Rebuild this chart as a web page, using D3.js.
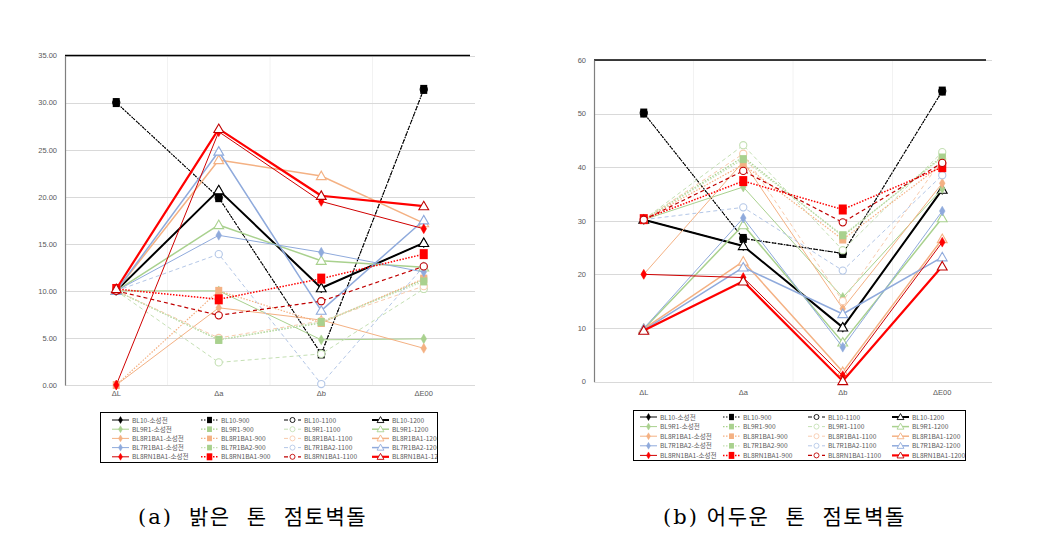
<!DOCTYPE html>
<html><head><meta charset="utf-8">
<script src="https://cdn.jsdelivr.net/npm/d3@7"></script>
<style>body{margin:0;background:#fff} svg{display:block}</style>
</head><body><svg id="c" width="1037" height="536"></svg>
<script>
// ---------- DATA ----------
const categories = ["ΔL", "Δa", "Δb", "ΔE00"];
const ticksA = [0, 5, 10, 15, 20, 25, 30, 35];
const ticksB = [0, 10, 20, 30, 40, 50, 60];

const legendNamesA = [
  "BL10-소성전", "BL10-900", "BL10-1100", "BL10-1200",
  "BL9R1-소성전", "BL9R1-900", "BL9R1-1100", "BL9R1-1200",
  "BL8R1BA1-소성전", "BL8R1BA1-900", "BL8R1BA1-1100", "BL8R1BA1-1200",
  "BL7R1BA1-소성전", "BL7R1BA2-900", "BL7R1BA2-1100", "BL7R1BA2-1200",
  "BL8RN1BA1-소성전", "BL8RN1BA1-900", "BL8RN1BA1-1100", "BL8RN1BA1-1200"
];
const legendNamesB = [
  "BL10-소성전", "BL10-900", "BL10-1100", "BL10-1200",
  "BL9R1-소성전", "BL9R1-900", "BL9R1-1100", "BL9R1-1200",
  "BL8R1BA1-소성전", "BL8R1BA1-900", "BL8R1BA1-1100", "BL8R1BA1-1200",
  "BL7R1BA2-소성전", "BL7R1BA2-900", "BL7R1BA2-1100", "BL7R1BA2-1200",
  "BL8RN1BA1-소성전", "BL8RN1BA1-900", "BL8RN1BA1-1100", "BL8RN1BA1-1200"
];

// panel (a) values: [소성전, 900, 1100, 1200] x [ΔL, Δa, Δb, ΔE00]
const a_BL10     = [[10, 20.7, 10.3, 15.1], [30.0, 19.9, 3.3, 31.4], [30.0, 19.9, 3.3, 31.4], [10, 20.7, 10.3, 15.1]];
const a_BL9R1    = [[10, 10.0, 4.8, 4.9], [10, 4.8, 6.6, 11.2], [10, 2.4, 3.3, 10.2], [10, 17.0, 13.2, 12.5]];
const a_BL8R1BA1 = [[0, 8.2, 6.9, 3.9], [0, 10.0, 6.6, 11.3], [10, 5.0, 6.8, 10.5], [10, 23.9, 22.2, 17.2]];
const a_BL7R1BA2 = [[10, 15.9, 14.1, 12.0], [10, 4.8, 6.7, 11.0], [10, 13.9, 0.1, 12.6], [10, 24.8, 7.9, 17.5]];
const a_BL8RN1BA1= [[0, 26.9, 19.5, 16.6], [10.2, 9.1, 11.3, 13.9], [10, 7.4, 8.9, 12.6], [10.2, 27.2, 20.1, 19.0]];

// panel (b) values
const b_BL10     = [[30.2, 25.3, 10.1, 35.8], [50.1, 26.7, 23.9, 54.2], [50.1, 26.7, 23.9, 54.2], [30.2, 25.3, 10.1, 35.8]];
const b_BL9R1    = [[30.2, 36.3, 15.7, 36.0], [30.2, 41.9, 27.1, 42.0], [30.2, 44.1, 24.5, 42.8], [9.8, 29.2, 7.3, 30.5]];
const b_BL8R1BA1 = [[20.0, 41.0, 13.6, 37.0], [30.2, 40.5, 26.5, 40.5], [30.2, 42.5, 15.0, 41.5], [9.8, 22.4, 1.8, 26.6]];
const b_BL7R1BA2 = [[9.9, 30.5, 6.4, 31.8], [30.2, 41.5, 27.3, 41.8], [30.2, 32.5, 20.7, 38.5], [9.6, 21.3, 12.6, 23.2]];
const b_BL8RN1BA1= [[20.0, 19.4, 1.1, 26.0], [30.3, 37.4, 32.1, 40.0], [30.2, 39.3, 29.7, 40.8], [9.5, 18.7, 0.1, 21.5]];

const captionLabelA = "(a)", captionTextA = "밝은 톤 점토벽돌";
const captionLabelB = "(b)", captionTextB = "어두운 톤 점토벽돌";

// ---------- STYLES ----------
const groupStyles = [
  { line: ["#000000", "#000000", "#000000", "#000000"], mark: ["#000000", "#000000", "#000000", "#000000"], w: [1, 1.2, 1, 2], sq: [7, 9], order: [0, 2, 1, 3] },
  { line: ["#A9D18E", "#A9D18E", "#C5E0B4", "#A9D18E"], mark: ["#A9D18E", "#A9D18E", "#C5E0B4", "#A9D18E"], w: [1, 1.2, 1, 1.5], sq: [7, 8], order: [0, 1, 2, 3] },
  { line: ["#F4B183", "#F4B183", "#F8CBAD", "#F4B183"], mark: ["#F4B183", "#F4B183", "#F8CBAD", "#F4B183"], w: [1, 1.2, 1, 1.5], sq: [7, 8], order: [0, 1, 2, 3] },
  { line: ["#8FAADC", "#C5E0B4", "#B4C7E7", "#8FAADC"], mark: ["#8FAADC", "#A9D18E", "#B4C7E7", "#8FAADC"], w: [1, 1.2, 1, 1.5], sq: [7, 8], order: [0, 1, 2, 3] },
  { line: ["#D00000", "#FF0000", "#C00000", "#FF0000"], mark: ["#FF0000", "#FF0000", "#C00000", "#C00000"], w: [1, 1.5, 1.2, 2.2], sq: [8, 10], order: [0, 1, 2, 3] }
];
const dashes = [null, "1.5,1.5", "4,3", null];
const FONT = "'Noto Sans CJK KR', 'Noto Sans', sans-serif";

const svg = d3.select("#c");

function drawMarker(g, kind, x, y, color, st, s) {
  s = s || 1;
  if (kind === 0) {
    g.append("path").attr("d", d3.symbol(d3.symbolDiamond, 28 * s * s)()).attr("transform", `translate(${x},${y})`)
      .attr("fill", color).attr("stroke", color).attr("stroke-width", 0.5);
  } else if (kind === 1) {
    const w = st.sq[0] * s, h = st.sq[1] * s;
    g.append("rect").attr("x", x - w / 2).attr("y", y - h / 2).attr("width", w).attr("height", h).attr("fill", color);
  } else if (kind === 2) {
    g.append("circle").attr("cx", x).attr("cy", y).attr("r", 3.6 * s).attr("fill", "#fff").attr("stroke", color).attr("stroke-width", 1.1 * Math.max(s, 0.8));
  } else {
    g.append("path").attr("d", d3.symbol(d3.symbolTriangle, 42 * s * s)()).attr("transform", `translate(${x},${y + 0.8 * s})`)
      .attr("fill", "#fff").attr("stroke", color).attr("stroke-width", 1.1 * Math.max(s, 0.8));
  }
}

function drawPanel(cfg) {
  const g = svg.append("g");
  const x = d3.scaleBand().domain(categories).range([cfg.left, cfg.right]);
  const y = d3.scaleLinear().domain([0, cfg.max]).range([cfg.bottom, cfg.top]);
  const cx = c => x(c) + x.bandwidth() / 2;

  g.selectAll(".vg").data(categories.slice(1)).enter().append("line")
    .attr("x1", c => x(c)).attr("x2", c => x(c)).attr("y1", cfg.top).attr("y2", cfg.bottom)
    .attr("stroke", "#F2F2F2").attr("stroke-width", 1);
  g.selectAll(".hg").data(cfg.ticks).enter().append("line")
    .attr("x1", cfg.left).attr("x2", cfg.right).attr("y1", d => Math.round(y(d)) + 0.5).attr("y2", d => Math.round(y(d)) + 0.5)
    .attr("stroke", "#D9D9D9").attr("stroke-width", 1);
  g.append("line").attr("x1", cfg.left).attr("x2", cfg.topRight).attr("y1", y(cfg.max)).attr("y2", y(cfg.max))
    .attr("stroke", "#000").attr("stroke-width", 1.6);

  const ay = g.append("g").attr("transform", `translate(${cfg.left},0)`)
    .call(d3.axisLeft(y).tickValues(cfg.ticks).tickFormat(cfg.fmt).tickSize(0).tickPadding(cfg.tickPad));
  ay.select(".domain").attr("stroke", "#7F7F7F").attr("stroke-width", 1.2);
  ay.selectAll("text").attr("font-family", "'Liberation Sans Narrow', 'Liberation Sans', sans-serif").attr("font-size", 7.5).attr("fill", "#595959");

  const ax = g.append("g").attr("transform", `translate(0,${cfg.bottom})`)
    .call(d3.axisBottom(x).tickSize(0).tickPadding(cfg.catPad));
  ax.select(".domain").remove();
  ax.selectAll("text").attr("font-family", "'Liberation Sans Narrow', 'Liberation Sans', sans-serif").attr("font-size", 7.5).attr("fill", "#595959");

  const line = d3.line().x((d, i) => cx(categories[i])).y(d => y(d));
  cfg.groups.forEach((grp, gi) => {
    const st = groupStyles[gi];
    st.order.forEach(vi => {
      const vals = grp[vi];
      const p = g.append("path").attr("d", line(vals)).attr("fill", "none")
        .attr("stroke", st.line[vi]).attr("stroke-width", st.w[vi]).attr("stroke-linejoin", "round");
      if (dashes[vi]) p.attr("stroke-dasharray", dashes[vi]);
      vals.forEach((v, i) => drawMarker(g, vi, cx(categories[i]), y(v), st.mark[vi], st, 1));
    });
  });

  const L = cfg.legend;
  g.append("rect").attr("x", L.x + 0.5).attr("y", L.y + 0.5).attr("width", L.w).attr("height", L.h)
    .attr("fill", "#fff").attr("stroke", "#000").attr("stroke-width", 1);
  const clipId = "clip" + cfg.id;
  g.append("clipPath").attr("id", clipId).append("rect").attr("x", L.x).attr("y", L.y).attr("width", L.w).attr("height", L.h);
  const lg = g.append("g").attr("clip-path", `url(#${clipId})`);
  cfg.names.forEach((name, k) => {
    const r = Math.floor(k / 4), c = k % 4;
    const st = groupStyles[r];
    const yy = L.y + L.row0 + r * L.dy;
    const x0 = L.cols[c];
    const ln = lg.append("line").attr("x1", x0).attr("x2", x0 + L.len).attr("y1", yy).attr("y2", yy)
      .attr("stroke", st.line[c]).attr("stroke-width", st.w[c]);
    if (dashes[c]) ln.attr("stroke-dasharray", dashes[c]);
    drawMarker(lg, c, x0 + L.len / 2, yy, st.mark[c], st, 0.7);
    lg.append("text").attr("x", x0 + L.len + 3).attr("y", yy + 2.5).text(name)
      .attr("font-family", FONT).attr("font-size", 6.6).attr("fill", "#595959");
  });

  const cap = g.append("text").attr("x", cfg.capX).attr("y", 524).attr("fill", "#000");
  cap.append("tspan").text(cfg.capLabel)
    .attr("font-family", "'DejaVu Serif', serif").attr("font-size", 21).attr("letter-spacing", 2);
  cap.append("tspan").attr("dx", cfg.capGap).text(cfg.capText)
    .attr("font-family", FONT).attr("font-size", 21).attr("letter-spacing", 1.5).attr("word-spacing", 10);
}

drawPanel({
  id: "a", left: 65, right: 475, topRight: 470, top: 55.5, bottom: 385, max: 35, ticks: ticksA, fmt: d3.format(".2f"), tickPad: 8, catPad: 6,
  groups: [a_BL10, a_BL9R1, a_BL8R1BA1, a_BL7R1BA2, a_BL8RN1BA1], names: legendNamesA,
  legend: { x: 100, y: 412, w: 337, h: 50, row0: 8, dy: 9.2, cols: [112, 201, 284, 372], len: 17 },
  capX: 138, capGap: 16, capLabel: captionLabelA, capText: captionTextA
});
drawPanel({
  id: "b", left: 594, right: 992, topRight: 986, top: 60, bottom: 381.5, max: 60, ticks: ticksB, fmt: d3.format("d"), tickPad: 8, catPad: 8,
  groups: [b_BL10, b_BL9R1, b_BL8R1BA1, b_BL7R1BA2, b_BL8RN1BA1], names: legendNamesB,
  legend: { x: 633, y: 410, w: 332, h: 50, row0: 7, dy: 9.6, cols: [640, 723, 808, 892], len: 17 },
  capX: 663, capGap: 8, capLabel: captionLabelB, capText: captionTextB
});
</script>
</body></html>
